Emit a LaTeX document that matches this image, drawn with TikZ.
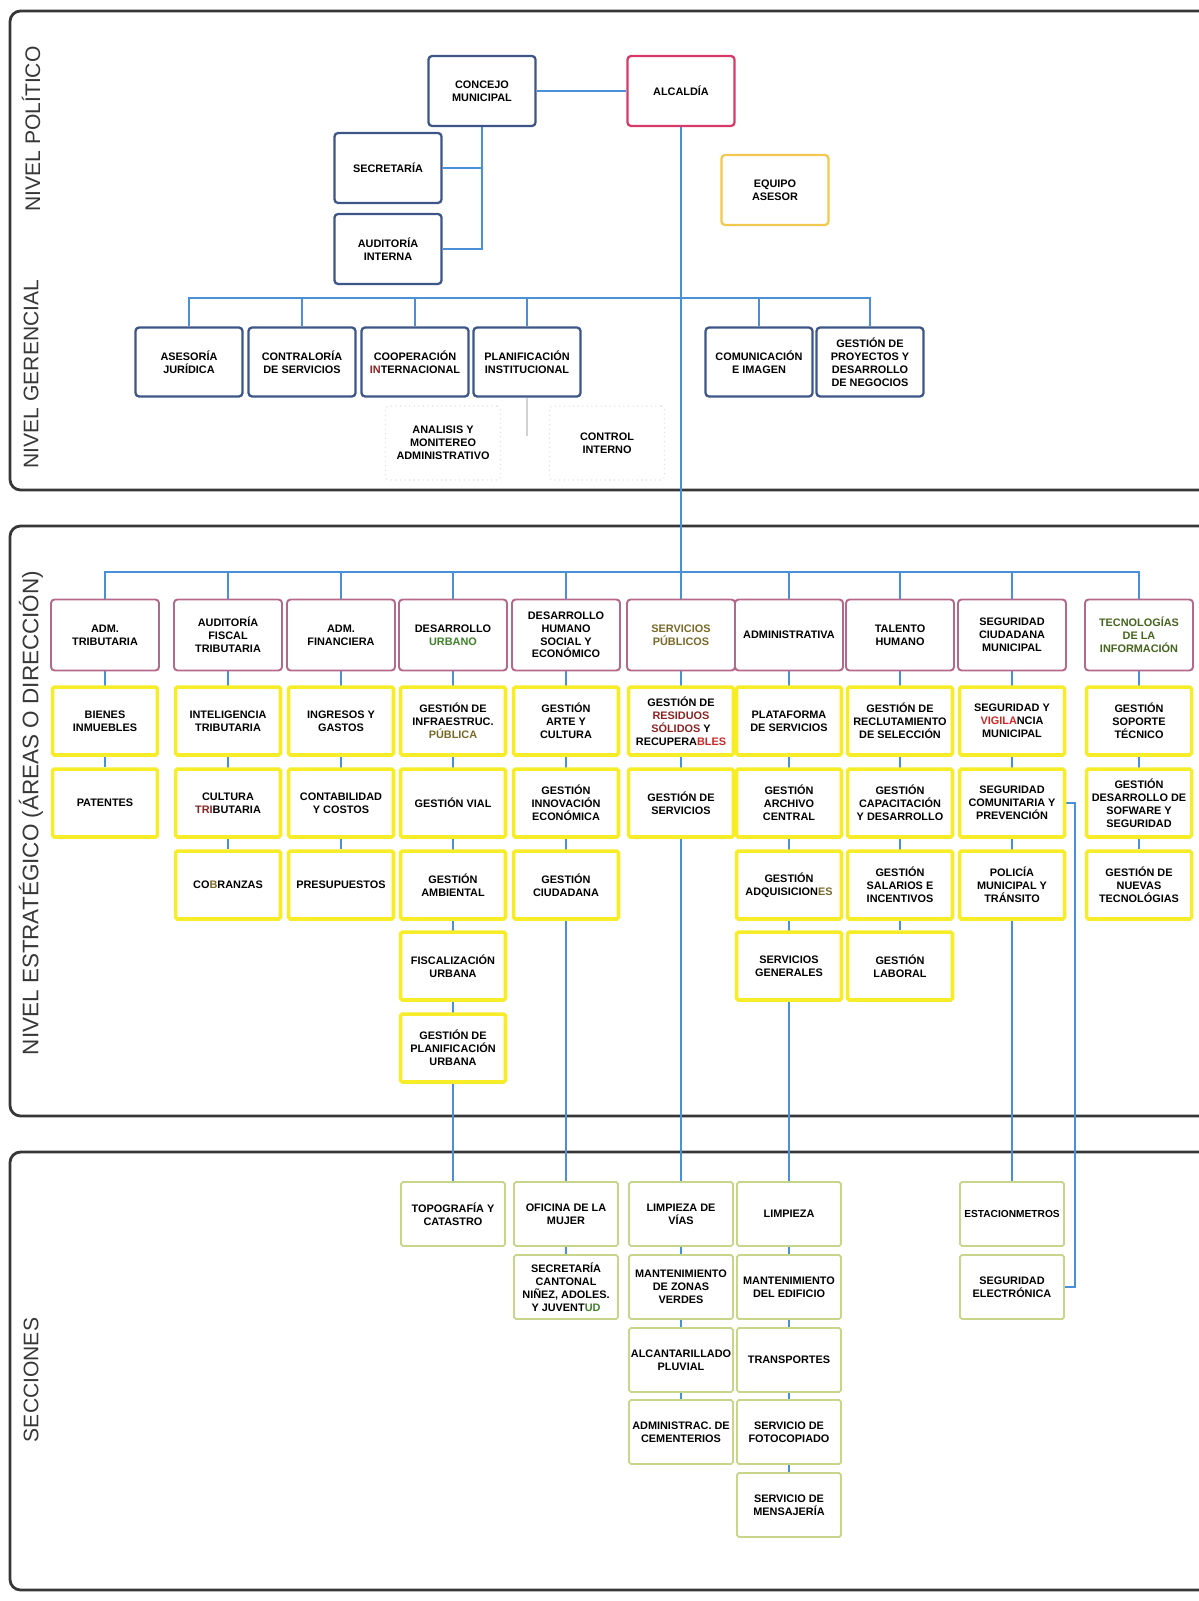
\documentclass[tikz,border=0pt]{standalone}
\usepackage{fontspec}
\setsansfont{Liberation Sans}
\usepackage{xcolor}
\usepackage{tikz}
\usetikzlibrary{positioning, calc, backgrounds}
\definecolor{azulconn}{RGB}{74,144,217}
\definecolor{azulcaja}{RGB}{61,86,135}
\definecolor{rojoalc}{RGB}{214,58,104}
\definecolor{oroasesor}{RGB}{242,200,80}
\definecolor{malva}{RGB}{180,105,140}
\definecolor{amarillo}{RGB}{246,236,40}
\definecolor{verdesec}{RGB}{200,214,140}
\definecolor{marcogris}{RGB}{55,55,55}
\definecolor{verdetxt}{RGB}{60,130,40}
\definecolor{verdeosc}{RGB}{70,100,30}
\definecolor{olivatxt}{RGB}{120,105,40}
\definecolor{rojotxt}{RGB}{140,35,35}
\definecolor{rojovivo}{RGB}{200,40,40}

\tikzset{
  caja/.style={rectangle,rounded corners=2pt,fill=white,align=center,inner sep=1pt,
    font=\fontsize{6.2}{7.3}\selectfont\sffamily\bfseries,minimum width=2.14cm,minimum height=1.4cm},
  politico/.style={caja,draw=azulcaja,line width=1.3pt},
  alcaldia/.style={caja,draw=rojoalc,line width=1.3pt},
  asesor/.style={caja,draw=oroasesor,line width=1.3pt},
  gerencia/.style={politico,minimum height=1.38cm},
  apoyo/.style={caja,draw=gray!25,dotted,line width=0.6pt,minimum width=2.3cm,minimum height=1.48cm},
  direccion/.style={caja,draw=malva,line width=1.1pt,minimum width=2.16cm,minimum height=1.42cm},
  unidad/.style={caja,rounded corners=1pt,draw=amarillo,line width=2pt,minimum width=2.1cm,minimum height=1.36cm},
  seccion/.style={caja,rounded corners=1pt,draw=verdesec,line width=1pt,minimum width=2.08cm,minimum height=1.28cm},
  conn/.style={azulconn,line width=1.1pt},
  apoyolinea/.style={gray!35,line width=0.6pt},
  marco/.style={draw=marcogris,line width=1.6pt,rounded corners=6pt},
  nivel/.style={rotate=90,text=marcogris,font=\fontsize{12}{14}\selectfont\sffamily}
}

\begin{document}
\begin{tikzpicture}[x=0.02cm,y=-0.02cm]
    \useasboundingbox (0,0) rectangle (1199,1601);

    % Niveles
    \node[nivel] (npolitico) at (31,129) {NIVEL POLÍTICO};
    \node[nivel] (ngerencial) at (31,374) {NIVEL GERENCIAL};
    \node[nivel,font=\fontsize{12.8}{14}\selectfont\sffamily] (nestrategico) at (31,813) {NIVEL ESTRATÉGICO (ÁREAS O DIRECCIÓN)};
    \node[nivel] (nsecciones) at (31,1380) {SECCIONES};

    % Nivel politico
    \node[politico] (concejo) at (482,91) {CONCEJO\\MUNICIPAL};
    \node[alcaldia] (alcaldia) at (681,91) {ALCALDÍA};
    \node[politico] (secretaria) at (388,168) {SECRETARÍA};
    \node[politico] (auditoria) at (388,249) {AUDITORÍA\\INTERNA};
    \node[asesor] (equipo) at (775,190) {EQUIPO\\ASESOR};

    % Nivel gerencial
    \node[gerencia] (juridica) at (189,362) {ASESORÍA\\JURÍDICA};
    \node[gerencia] (contraloria) at (302,362) {CONTRALORÍA\\DE SERVICIOS};
    \node[gerencia] (cooperacion) at (415,362) {COOPERACIÓN\\\textcolor{rojotxt}{IN}TERNACIONAL};
    \node[gerencia] (planificacion) at (527,362) {PLANIFICACIÓN\\INSTITUCIONAL};
    \node[gerencia] (comunicacion) at (759,362) {COMUNICACIÓN\\E IMAGEN};
    \node[gerencia] (proyectos) at (870,362) {GESTIÓN DE\\PROYECTOS Y\\DESARROLLO\\DE NEGOCIOS};
    \node[apoyo] (analisis) at (443,443) {ANALISIS Y\\MONITEREO\\ADMINISTRATIVO};
    \node[apoyo] (control) at (607,443) {CONTROL\\INTERNO};
    \coordinate (pfin) at (527,436);

    % Direcciones
    \node[direccion] (atrib) at (105,635) {ADM.\\TRIBUTARIA};
    \node[direccion] (afiscal) at (228,635) {AUDITORÍA\\FISCAL\\TRIBUTARIA};
    \node[direccion] (afin) at (341,635) {ADM.\\FINANCIERA};
    \node[direccion] (durbano) at (453,635) {DESARROLLO\\\textcolor{verdetxt}{URBANO}};
    \node[direccion] (dhumano) at (566,635) {DESARROLLO\\HUMANO\\SOCIAL Y\\ECONÓMICO};
    \node[direccion,text=olivatxt] (spublicos) at (681,635) {SERVICIOS\\PÚBLICOS};
    \node[direccion] (admin) at (789,635) {ADMINISTRATIVA};
    \node[direccion] (talento) at (900,635) {TALENTO\\HUMANO};
    \node[direccion] (seguridad) at (1012,635) {SEGURIDAD\\CIUDADANA\\MUNICIPAL};
    \node[direccion,text=verdeosc] (tic) at (1139,635) {TECNOLOGÍAS\\DE LA\\INFORMACIÓN};

    % Unidades
    \node[unidad] (bienes) at (105,721) {BIENES\\INMUEBLES};
    \node[unidad] (patentes) at (105,803) {PATENTES};

    \node[unidad] (intel) at (228,721) {INTELIGENCIA\\TRIBUTARIA};
    \node[unidad] (cultura) at (228,803) {CULTURA\\\textcolor{rojotxt}{TRI}BUTARIA};
    \node[unidad] (cobranzas) at (228,885) {CO\textcolor{olivatxt}{B}RANZAS};

    \node[unidad] (ingresos) at (341,721) {INGRESOS Y\\GASTOS};
    \node[unidad] (contabilidad) at (341,803) {CONTABILIDAD\\Y COSTOS};
    \node[unidad] (presupuestos) at (341,885) {PRESUPUESTOS};

    \node[unidad] (infra) at (453,721) {GESTIÓN DE\\INFRAESTRUC.\\\textcolor{olivatxt}{PÚBLICA}};
    \node[unidad] (vial) at (453,803) {GESTIÓN VIAL};
    \node[unidad] (ambiental) at (453,885) {GESTIÓN\\AMBIENTAL};
    \node[unidad] (fiscalizacion) at (453,966) {FISCALIZACIÓN\\URBANA};
    \node[unidad] (planurbana) at (453,1048) {GESTIÓN DE\\PLANIFICACIÓN\\URBANA};

    \node[unidad] (arte) at (566,721) {GESTIÓN\\ARTE Y\\CULTURA};
    \node[unidad] (innovacion) at (566,803) {GESTIÓN\\INNOVACIÓN\\ECONÓMICA};
    \node[unidad] (ciudadana) at (566,885) {GESTIÓN\\CIUDADANA};

    \node[unidad] (residuos) at (681,721) {GESTIÓN DE\\\textcolor{rojotxt}{RESIDUOS}\\\textcolor{rojotxt}{SÓLIDOS} Y\\RECUPERA\textcolor{rojovivo}{BLES}};
    \node[unidad] (gservicios) at (681,803) {GESTIÓN DE\\SERVICIOS};

    \node[unidad] (plataforma) at (789,721) {PLATAFORMA\\DE SERVICIOS};
    \node[unidad] (archivo) at (789,803) {GESTIÓN\\ARCHIVO\\CENTRAL};
    \node[unidad] (adquisiciones) at (789,885) {GESTIÓN\\ADQUISICION\textcolor{olivatxt}{ES}};
    \node[unidad] (sgenerales) at (789,966) {SERVICIOS\\GENERALES};

    \node[unidad] (reclutamiento) at (900,721) {GESTIÓN DE\\RECLUTAMIENTO\\DE SELECCIÓN};
    \node[unidad] (capacitacion) at (900,803) {GESTIÓN\\CAPACITACIÓN\\Y DESARROLLO};
    \node[unidad] (salarios) at (900,885) {GESTIÓN\\SALARIOS E\\INCENTIVOS};
    \node[unidad] (laboral) at (900,966) {GESTIÓN\\LABORAL};

    \node[unidad] (vigilancia) at (1012,721) {SEGURIDAD Y\\\textcolor{rojovivo}{VIGILA}NCIA\\MUNICIPAL};
    \node[unidad] (comunitaria) at (1012,803) {SEGURIDAD\\COMUNITARIA Y\\PREVENCIÓN};
    \node[unidad] (policia) at (1012,885) {POLICÍA\\MUNICIPAL Y\\TRÁNSITO};

    \node[unidad] (soporte) at (1139,721) {GESTIÓN\\SOPORTE\\TÉCNICO};
    \node[unidad] (software) at (1139,803) {GESTIÓN\\DESARROLLO DE\\SOFWARE Y\\SEGURIDAD};
    \node[unidad] (nuevas) at (1139,885) {GESTIÓN DE\\NUEVAS\\TECNOLÓGIAS};
    \coordinate (codo) at (1075,803);

    % Secciones
    \node[seccion] (topografia) at (453,1214) {TOPOGRAFÍA Y\\CATASTRO};
    \node[seccion] (mujer) at (566,1214) {OFICINA DE LA\\MUJER};
    \node[seccion] (ninez) at (566,1287) {SECRETARÍA\\CANTONAL\\NIÑEZ, ADOLES.\\Y JUVENT\textcolor{verdetxt}{UD}};
    \node[seccion] (lvias) at (681,1214) {LIMPIEZA DE\\VÍAS};
    \node[seccion] (zverdes) at (681,1287) {MANTENIMIENTO\\DE ZONAS\\VERDES};
    \node[seccion] (pluvial) at (681,1360) {ALCANTARILLADO\\PLUVIAL};
    \node[seccion] (cementerios) at (681,1432) {ADMINISTRAC. DE\\CEMENTERIOS};
    \node[seccion] (limpieza) at (789,1214) {LIMPIEZA};
    \node[seccion] (edificio) at (789,1287) {MANTENIMIENTO\\DEL EDIFICIO};
    \node[seccion] (transportes) at (789,1360) {TRANSPORTES};
    \node[seccion] (fotocopiado) at (789,1432) {SERVICIO DE\\FOTOCOPIADO};
    \node[seccion] (mensajeria) at (789,1505) {SERVICIO DE\\MENSAJERÍA};
    \node[seccion,font=\fontsize{5.8}{7}\selectfont\sffamily\bfseries] (estacionmetros) at (1012,1214) {ESTACIONMETROS};
    \node[seccion] (electronica) at (1012,1287) {SEGURIDAD\\ELECTRÓNICA};

    \coordinate (gcruce) at (681,298);
    \coordinate (ecruce) at (681,572);

    \begin{scope}[on background layer]
    \clip (0,0) rectangle (1199,1601);
    % Marcos
    \draw[marco] (10,11) rectangle (1240,490);
    \draw[marco] (10,526) rectangle (1240,1116);
    \draw[marco] (10,1152) rectangle (1240,1590);

    % Conexiones
    \draw[conn] (concejo) -- (alcaldia);
    \draw[conn] (concejo.south) |- (auditoria.east);
    \draw[conn] (secretaria.east) -- (secretaria.east -| concejo.south);
    \draw[conn] (alcaldia.south) -- (lvias.north);
    \draw[conn] (juridica.north) |- (gcruce) -| (proyectos.north);
    \draw[conn] (contraloria.north) -- (contraloria.north |- gcruce);
    \draw[conn] (cooperacion.north) -- (cooperacion.north |- gcruce);
    \draw[conn] (planificacion.north) -- (planificacion.north |- gcruce);
    \draw[conn] (comunicacion.north) -- (comunicacion.north |- gcruce);
    \draw[apoyolinea] (planificacion.south) -- (pfin);

    \draw[conn] (atrib.north) |- (ecruce) -| (tic.north);
    \draw[conn] (afiscal.north) -- (afiscal.north |- ecruce);
    \draw[conn] (afin.north) -- (afin.north |- ecruce);
    \draw[conn] (durbano.north) -- (durbano.north |- ecruce);
    \draw[conn] (dhumano.north) -- (dhumano.north |- ecruce);
    \draw[conn] (admin.north) -- (admin.north |- ecruce);
    \draw[conn] (talento.north) -- (talento.north |- ecruce);
    \draw[conn] (seguridad.north) -- (seguridad.north |- ecruce);

    \draw[conn] (atrib) -- (patentes);
    \draw[conn] (afiscal) -- (cobranzas);
    \draw[conn] (afin) -- (presupuestos);
    \draw[conn] (durbano) -- (topografia);
    \draw[conn] (dhumano) -- (ninez);
    \draw[conn] (lvias) -- (cementerios);
    \draw[conn] (admin) -- (mensajeria);
    \draw[conn] (talento) -- (laboral);
    \draw[conn] (seguridad) -- (estacionmetros);
    \draw[conn] (tic) -- (nuevas);
    \draw[conn,line width=0.6pt] (comunitaria.east) -- (codo) |- (electronica.east);
    \end{scope}
\end{tikzpicture}
\end{document}
